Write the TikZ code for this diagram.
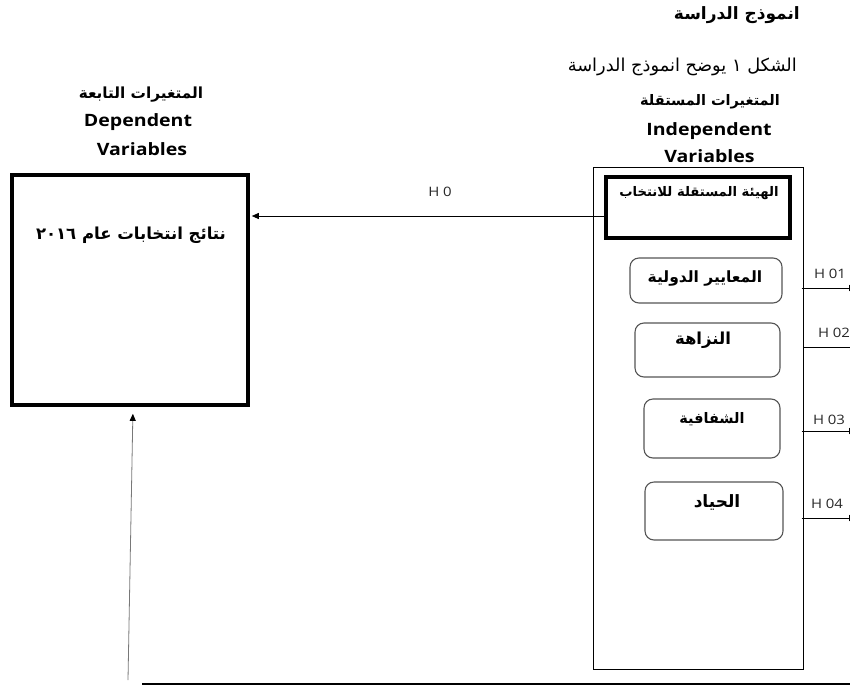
\documentclass[tikz,border=0pt]{standalone}
\usepackage{fontspec}
\usetikzlibrary{arrows.meta}
\TeXXeTstate=1
\newfontfamily\arabicfont[Script=Arabic]{DejaVu Sans}
\newfontfamily\latinsans[FakeStretch=1.15]{Open Sans}
\newcommand\artxt[1]{{\arabicfont\beginR #1\endR}}
\newcommand\arsz[1]{\arabicfont\bfseries\fontsize{#1}{#1}\selectfont}
\definecolor{boxgray}{RGB}{85,85,85}
\definecolor{linegray}{RGB}{120,120,120}
\definecolor{hgray}{RGB}{40,40,40}
\tikzset{
  thickbox/.style={draw, line width=3.6pt, inner sep=0pt},
  thinbox/.style={draw, line width=1pt, inner sep=0pt},
  roundbox/.style={draw=boxgray, line width=1.1pt, rounded corners=9pt, inner sep=0pt},
  lbl/.style={inner sep=0pt},
  entitle/.style={lbl, font=\latinsans\bfseries\fontsize{17}{19}\selectfont},
  hlbl/.style={lbl, text=hgray, font=\latinsans\fontsize{13}{14}\selectfont},
  arr/.style={-{Triangle[length=7pt,width=6pt,color=black]}, line width=0.9pt},
}
\begin{document}
\begin{tikzpicture}[x=1pt,y=-1pt]
\useasboundingbox (0,0) rectangle (850,688);
\fill[white] (0,0) rectangle (850,688);
\begin{scope}
\clip (0,0) rectangle (850,688);

% headings
\node[lbl, anchor=east, font=\arsz{17}] (title) at (800,15) {\artxt{انموذج الدراسة}};
\node[lbl, anchor=east, font=\arabicfont\fontsize{17.8}{18}\selectfont] (subt) at (797,67) {\artxt{الشكل ١ يوضح انموذج الدراسة}};
\node[lbl, font=\arsz{14.5}] (indar) at (710,102) {\artxt{المتغيرات المستقلة}};
\node[entitle] (inden1) at (709,131) {Independent};
\node[entitle] (inden2) at (709.5,156) {Variables};
\node[lbl, font=\arsz{15.3}] (depar) at (141,95) {\artxt{المتغيرات التابعة}};
\node[entitle] (depen1) at (138,122) {Dependent};
\node[entitle] (depen2) at (142,149) {Variables};

% boxes
\node[thickbox, minimum width=236pt, minimum height=230pt] (dep) at (130,290) {};
\node[lbl, font=\arsz{16.5}] (deptxt) at (131,235) {\artxt{نتائج انتخابات عام \beginL ٢٠١٦\endL}};
\node[thinbox, minimum width=210pt, minimum height=502pt] (indep) at (698,418) {};
\node[thickbox, line width=3.4pt, minimum width=184pt, minimum height=61pt] (hay) at (698,207.5) {};
\node[lbl, font=\arsz{13.2}] (haytxt) at (699,193) {\artxt{الهيئة المستقلة للانتخاب}};

\node[roundbox, minimum width=152pt, minimum height=45pt] (r1) at (706,280.5) {};
\node[lbl, font=\arsz{15.5}] (r1t) at (705,278) {\artxt{المعايير الدولية}};
\node[roundbox, minimum width=145pt, minimum height=54pt] (r2) at (707.5,350) {};
\node[lbl, font=\arsz{16.5}] (r2t) at (703,340) {\artxt{النزاهة}};
\node[roundbox, minimum width=136pt, minimum height=59pt] (r3) at (712,428.5) {};
\node[lbl, font=\arsz{14.5}] (r3t) at (712,419) {\artxt{الشفافية}};
\node[roundbox, minimum width=138pt, minimum height=58pt] (r4) at (714,511) {};
\node[lbl, font=\arsz{17}] (r4t) at (717,502) {\artxt{الحياد}};

% H0 arrow
\coordinate (h0s) at ([yshift=-8.5pt]hay.west);
\draw[arr, shorten >=2pt] (h0s) -- (h0s -| dep.east);
\node[hlbl] (h0l) at (440,192) {H 0};

% H0x arrows leaving to the right
\coordinate (e1) at (856,288);
\coordinate (e2) at (859,347);
\coordinate (e3) at (856,431);
\coordinate (e4) at (856,518);
\draw[arr] ([xshift=-2pt]indep.east |- e1) -- (e1);
\draw[arr] (indep.east |- e2) -- (e2);
\draw[arr] ([xshift=-2pt]indep.east |- e3) -- (e3);
\draw[arr] ([xshift=-2pt]indep.east |- e4) -- (e4);
\node[hlbl] (h1l) at (830,274) {H 01};
\node[hlbl] (h2l) at (834,333) {H 02};
\node[hlbl] (h3l) at (829,420) {H 03};
\node[hlbl] (h4l) at (827,504) {H 04};

% bottom arrow and line
\coordinate (b0) at (128,680);
\draw[arr, draw=linegray, line width=0.8pt, shorten >=7pt] (b0) -- ([xshift=3pt]dep.south);
\coordinate (bl1) at (142,684);
\coordinate (bl2) at (850,684);
\draw[line width=1.4pt] (bl1) -- (bl2);
\end{scope}
\end{tikzpicture}
\end{document}
